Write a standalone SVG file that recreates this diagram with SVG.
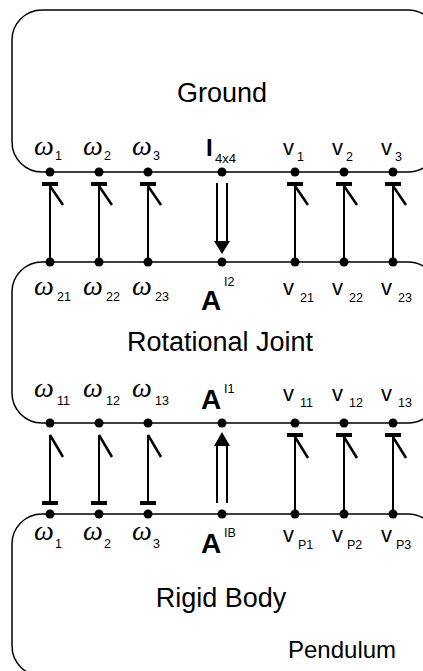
<svg xmlns="http://www.w3.org/2000/svg" width="423" height="671" viewBox="0 0 423 671">
<style>
.box{fill:#fff;stroke:#000;stroke-width:1.5}
.dot{fill:#000}
.title{font-family:"Liberation Sans",Arial,sans-serif;font-size:27px;fill:#000}
.om{font-family:"Liberation Serif","Times New Roman",serif;font-style:italic;font-size:28px;fill:#000}
.v{font-family:"Liberation Sans",Arial,sans-serif;font-size:22px;fill:#000}
.sub{font-family:"Liberation Sans",Arial,sans-serif;font-size:12.5px;fill:#000}
.bold{font-family:"Liberation Sans",Arial,sans-serif;font-weight:bold;font-size:28px;fill:#000}
.ln{stroke:#000;stroke-width:2;fill:none}
.bar{stroke:#000;stroke-width:4;fill:none}
.tick{stroke:#000;stroke-width:2.5;fill:none}
.head{fill:#000}
</style>
<g id="ground">
<rect class="box" x="12" y="10" width="426" height="162" rx="30" ry="30"/>
<text class="title" x="222" y="102" text-anchor="middle">Ground</text>
<g class="dot"><circle cx="50" cy="172" r="4.5"/><circle cx="99" cy="172" r="4.5"/><circle cx="148" cy="172" r="4.5"/><circle cx="222" cy="172" r="4.5"/><circle cx="295" cy="172" r="4.5"/><circle cx="344" cy="172" r="4.5"/><circle cx="393" cy="172" r="4.5"/></g>
<text class="om" x="34" y="155">ω</text><text class="sub" x="55" y="160">1</text>
<text class="om" x="83" y="155">ω</text><text class="sub" x="104" y="160">2</text>
<text class="om" x="132" y="155">ω</text><text class="sub" x="153" y="160">3</text>
<text class="bold" x="206" y="156" style="font-size:24px">I</text><text class="sub" x="215" y="163" style="font-size:13px">4x4</text>
<text class="v" x="283" y="155">v</text><text class="sub" x="297" y="161">1</text>
<text class="v" x="332" y="155">v</text><text class="sub" x="346" y="161">2</text>
<text class="v" x="381" y="155">v</text><text class="sub" x="395" y="161">3</text>
</g>
<g id="rotational-joint">
<rect class="box" x="12" y="262" width="426" height="161" rx="30" ry="30"/>
<text class="title" x="220" y="351" text-anchor="middle">Rotational Joint</text>
<g class="dot"><circle cx="50" cy="262" r="4.5"/><circle cx="99" cy="262" r="4.5"/><circle cx="148" cy="262" r="4.5"/><circle cx="222" cy="262" r="4.5"/><circle cx="295" cy="262" r="4.5"/><circle cx="344" cy="262" r="4.5"/><circle cx="393" cy="262" r="4.5"/>
<circle cx="50" cy="423" r="4.5"/><circle cx="99" cy="423" r="4.5"/><circle cx="148" cy="423" r="4.5"/><circle cx="222" cy="423" r="4.5"/><circle cx="295" cy="423" r="4.5"/><circle cx="344" cy="423" r="4.5"/><circle cx="393" cy="423" r="4.5"/></g>
<text class="om" x="34" y="295">ω</text><text class="sub" x="57" y="301">21</text>
<text class="om" x="83" y="295">ω</text><text class="sub" x="106" y="301">22</text>
<text class="om" x="132" y="295">ω</text><text class="sub" x="155" y="301">23</text>
<text class="bold" x="201" y="310">A</text><text class="sub" x="224" y="286">I2</text>
<text class="v" x="283" y="295">v</text><text class="sub" x="300" y="302">21</text>
<text class="v" x="332" y="295">v</text><text class="sub" x="349" y="302">22</text>
<text class="v" x="381" y="295">v</text><text class="sub" x="398" y="302">23</text>
<text class="om" x="34" y="397">ω</text><text class="sub" x="57" y="405">11</text>
<text class="om" x="83" y="397">ω</text><text class="sub" x="106" y="405">12</text>
<text class="om" x="132" y="397">ω</text><text class="sub" x="155" y="405">13</text>
<text class="bold" x="201" y="409">A</text><text class="sub" x="224" y="393">I1</text>
<text class="v" x="283" y="401">v</text><text class="sub" x="300" y="407">11</text>
<text class="v" x="332" y="401">v</text><text class="sub" x="349" y="407">12</text>
<text class="v" x="381" y="401">v</text><text class="sub" x="398" y="407">13</text>
</g>
<g id="rigid-body">
<rect class="box" x="12" y="514" width="426" height="162" rx="30" ry="30"/>
<text class="title" x="221" y="607" text-anchor="middle">Rigid Body</text>
<text class="title" x="288" y="658" style="font-size:24px">Pendulum</text>
<g class="dot"><circle cx="50" cy="514" r="4.5"/><circle cx="99" cy="514" r="4.5"/><circle cx="148" cy="514" r="4.5"/><circle cx="222" cy="514" r="4.5"/><circle cx="295" cy="514" r="4.5"/><circle cx="344" cy="514" r="4.5"/><circle cx="393" cy="514" r="4.5"/></g>
<text class="om" x="34" y="540">ω</text><text class="sub" x="55" y="548">1</text>
<text class="om" x="83" y="540">ω</text><text class="sub" x="104" y="548">2</text>
<text class="om" x="132" y="540">ω</text><text class="sub" x="153" y="548">3</text>
<text class="bold" x="201" y="553">A</text><text class="sub" x="224" y="537">IB</text>
<text class="v" x="283" y="542">v</text><text class="sub" x="298" y="549">P1</text>
<text class="v" x="332" y="542">v</text><text class="sub" x="347" y="549">P2</text>
<text class="v" x="381" y="542">v</text><text class="sub" x="396" y="549">P3</text>
</g>
<g id="connectors">
<path class="ln" d="M50,186V262M99,186V262M148,186V262M295,186V262M344,186V262M393,186V262"/>
<path class="bar" d="M42,184H58M91,184H107M140,184H156M287,184H303M336,184H352M385,184H401"/>
<path class="tick" d="M50,186L63,205M99,186L112,205M148,186L161,205M295,186L308,205M344,186L357,205M393,186L406,205"/>
<path class="ln" d="M217,183V243M227,183V243"/>
<polygon class="head" points="214,241 230,241 222,254"/>
<path class="ln" d="M50,435V503M99,435V503M148,435V503"/>
<path class="tick" d="M50,435L63,457M99,435L112,457M148,435L161,457"/>
<path class="bar" d="M42,503H58M91,503H107M140,503H156"/>
<path class="ln" d="M295,436V514M344,436V514M393,436V514"/>
<path class="bar" d="M287,435H303M336,435H352M385,435H401"/>
<path class="tick" d="M295,437L308,458M344,437L357,458M393,437L406,458"/>
<path class="ln" d="M217,444V503M227,444V503"/>
<polygon class="head" points="214,446 230,446 222,432"/>
</g>
</svg>
